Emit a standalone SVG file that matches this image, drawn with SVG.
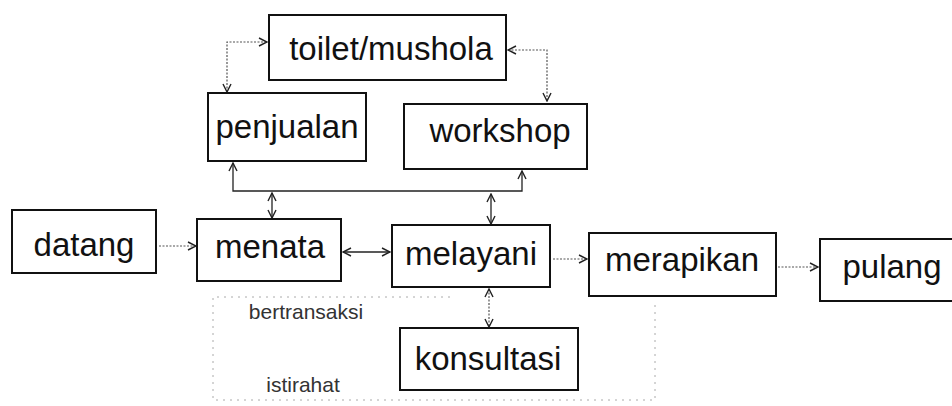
<svg xmlns="http://www.w3.org/2000/svg" width="952" height="406" viewBox="0 0 952 406">
<style>
.box{fill:#fff;stroke:#111;stroke-width:2}
.lbl{font-family:"Liberation Sans",Arial,sans-serif;font-size:33px;fill:#111;text-anchor:middle}
.sm{font-family:"Liberation Sans",Arial,sans-serif;font-size:21px;fill:#333;text-anchor:middle}
.c{fill:none;stroke:#222;stroke-width:1.3}
.d{fill:none;stroke:#555;stroke-width:1.2;stroke-dasharray:2 1.5}
.area{fill:none;stroke:#aaa;stroke-width:1;stroke-dasharray:2 5}
</style>
<defs>
<marker id="ah" viewBox="0 0 10 10" refX="9" refY="5" markerWidth="10" markerHeight="10" markerUnits="userSpaceOnUse" orient="auto-start-reverse">
<path d="M1,1 L9,5 L1,9" fill="none" stroke="#222" stroke-width="1.4"/>
</marker>
</defs>
<rect width="952" height="406" fill="#fff"/>
<path class="area" d="M450,297 L213,297 L213,400 L655,400 L655,300"/>
<g id="connectors">
<path class="d" d="M227,92 L227,42 L267,42" marker-start="url(#ah)" marker-end="url(#ah)"/>
<path class="d" d="M508,50 L547,50 L547,101" marker-start="url(#ah)" marker-end="url(#ah)"/>
<path class="c" d="M233,163 L233,191 L522,191 L522,171" marker-start="url(#ah)" marker-end="url(#ah)"/>
<path class="c" d="M272,193 L272,218" marker-start="url(#ah)" marker-end="url(#ah)"/>
<path class="c" d="M491,194 L491,224" marker-start="url(#ah)" marker-end="url(#ah)"/>
<path class="d" d="M159,246 L196,246" marker-end="url(#ah)"/>
<path class="c" d="M343,252 L390,252" marker-start="url(#ah)" marker-end="url(#ah)"/>
<path class="d" d="M553,259 L587,259" marker-end="url(#ah)"/>
<path class="d" d="M778,267 L818,267" marker-end="url(#ah)"/>
<path class="d" d="M489,289 L489,327" marker-start="url(#ah)" marker-end="url(#ah)"/>
</g>
<g id="toilet"><rect class="box" x="269" y="15" width="237" height="65"/><text class="lbl" x="391" y="60">toilet/mushola</text></g>
<g id="penjualan"><rect class="box" x="208" y="93" width="158" height="68"/><text class="lbl" x="287" y="138">penjualan</text></g>
<g id="workshop"><rect class="box" x="404" y="104" width="183" height="65"/><text class="lbl" x="500" y="142">workshop</text></g>
<g id="datang"><rect class="box" x="12" y="210" width="144" height="63"/><text class="lbl" x="84" y="256">datang</text></g>
<g id="menata"><rect class="box" x="197" y="219" width="144" height="62"/><text class="lbl" x="270" y="258">menata</text></g>
<g id="melayani"><rect class="box" x="392" y="225" width="158" height="62"/><text class="lbl" x="471" y="265">melayani</text></g>
<g id="merapikan"><rect class="box" x="589" y="233" width="187" height="63"/><text class="lbl" x="682" y="271">merapikan</text></g>
<g id="pulang"><rect class="box" x="820" y="239" width="145" height="62"/><text class="lbl" x="892" y="278">pulang</text></g>
<g id="konsultasi"><rect class="box" x="400" y="328" width="178" height="62"/><text class="lbl" x="488" y="370">konsultasi</text></g>
<g id="notes"><text class="sm" x="306" y="319">bertransaksi</text><text class="sm" x="303" y="392">istirahat</text></g>
</svg>
